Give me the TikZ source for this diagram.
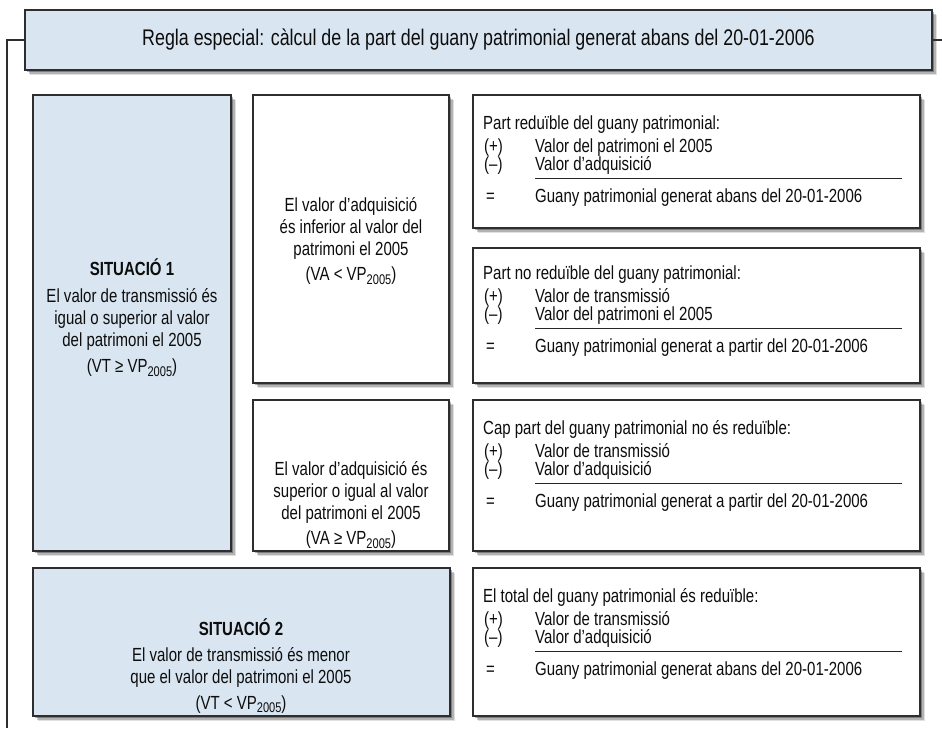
\documentclass[tikz,border=0pt]{standalone}
\usepackage{fontspec}
\setmainfont{Liberation Sans}[FakeStretch=0.79]
\usetikzlibrary{shadows}

\definecolor{paleblue}{HTML}{D9E5F1}
\definecolor{edgegray}{HTML}{2E2E2E}

\newcommand\vpsub[1]{\raisebox{-0.35ex}{\fontsize{14}{14}\selectfont #1}}

% one block of a calculation: heading, (+) row, (-) row, rule, = row
\newcommand\calcblock[6]{%
  \node[txt, anchor=base west] (#1h)  at (483,#2+7)  {#3};
  \node[txt, anchor=base west] (#1ps) at (484,#2+30) {(+)};
  \node[txt, anchor=base west] (#1pv) at (535,#2+30) {#4};
  \node[txt, anchor=base west] (#1ms) at (484,#2+48) {(–)};
  \node[txt, anchor=base west] (#1mv) at (535,#2+48) {#5};
  \draw[rulestyle] (535,#2+56) -- (902,#2+56);
  \node[txt, anchor=base west] (#1es) at (486,#2+80) {=};
  \node[txt, anchor=base west] (#1ev) at (535,#2+80) {#6};
}

\tikzset{
  panel/.style={draw=edgegray, line width=1.2pt, inner sep=0pt, outer sep=0pt,
    anchor=north west,
    general shadow={shadow xshift=4.8pt, shadow yshift=-4.8pt, fill=black, opacity=0.12},
    general shadow={shadow xshift=3.6pt, shadow yshift=-3.6pt, fill=black, opacity=0.2},
    general shadow={shadow xshift=2.4pt, shadow yshift=-2.4pt, fill=black, opacity=0.3}},
  bluepanel/.style={panel, fill=paleblue},
  whitepanel/.style={panel, fill=white},
  txt/.style={inner sep=0pt, text=black!95, font=\fontsize{19}{22}\selectfont},
  ctxt/.style={txt, align=center},
  conn/.style={draw=edgegray, line width=1.1pt},
  rulestyle/.style={draw=black!85, line width=0.9pt},
}

\begin{document}
\begin{tikzpicture}[x=1pt, y=-1pt]
\useasboundingbox (0,0) rectangle (942,728);

% title bar and its bracket
\node[bluepanel, minimum width=907pt, minimum height=60pt] (title) at (25,10) {};
\node[txt, font=\fontsize{22.6}{24}\selectfont] (titletext) at (title.center)
  {Regla especial: càlcul de la part del guany patrimonial generat abans del 20-01-2006};
\coordinate (lb) at (7,728);
\coordinate (rb) at (942,40);
\draw[conn] (title.west) -| (lb);
\draw[conn] (title.east) -- (title.east -| rb);

% situation 1
\node[bluepanel, minimum width=198pt, minimum height=456pt] (sit1) at (33,95) {};
\node[ctxt] (sit1text) at (132,318)
  {\textbf{SITUACIÓ 1}\\[5pt]
   El valor de transmissió és\\
   igual o superior al valor\\
   del patrimoni el 2005\\[4pt]
   (VT ≥ VP\vpsub{2005})};

\node[whitepanel, minimum width=196pt, minimum height=288pt] (mid1) at (253,95) {};
\node[ctxt] (mid1text) at (351,241)
  {El valor d’adquisició\\
   és inferior al valor del\\
   patrimoni el 2005\\[3pt]
   (VA < VP\vpsub{2005})};

\node[whitepanel, minimum width=196pt, minimum height=151pt] (mid2) at (253,400) {};
\node[ctxt] (mid2text) at (351,505)
  {El valor d’adquisició és\\
   superior o igual al valor\\
   del patrimoni el 2005\\[3pt]
   (VA ≥ VP\vpsub{2005})};

\node[whitepanel, minimum width=447pt, minimum height=133pt] (r1) at (473,95) {};
\node[whitepanel, minimum width=447pt, minimum height=135pt] (r2) at (473,248) {};
\node[whitepanel, minimum width=447pt, minimum height=151pt] (r3) at (473,400) {};

\calcblock{ra}{122}{Part reduïble del guany patrimonial:}
  {Valor del patrimoni el 2005}{Valor d’adquisició}
  {Guany patrimonial generat abans del 20-01-2006}
\calcblock{rb}{272}{Part no reduïble del guany patrimonial:}
  {Valor de transmissió}{Valor del patrimoni el 2005}
  {Guany patrimonial generat a partir del 20-01-2006}
\calcblock{rc}{427}{Cap part del guany patrimonial no és reduïble:}
  {Valor de transmissió}{Valor d’adquisició}
  {Guany patrimonial generat a partir del 20-01-2006}

% situation 2
\node[bluepanel, minimum width=417pt, minimum height=148pt] (sit2) at (33,568) {};
\node[ctxt] (sit2text) at (241,666)
  {\textbf{SITUACIÓ 2}\\[4pt]
   El valor de transmissió és menor\\
   que el valor del patrimoni el 2005\\[4pt]
   (VT < VP\vpsub{2005})};

\node[whitepanel, minimum width=447pt, minimum height=148pt] (r4) at (473,568) {};
\calcblock{rd}{595}{El total del guany patrimonial és reduïble:}
  {Valor de transmissió}{Valor d’adquisició}
  {Guany patrimonial generat abans del 20-01-2006}
\end{tikzpicture}
\end{document}
